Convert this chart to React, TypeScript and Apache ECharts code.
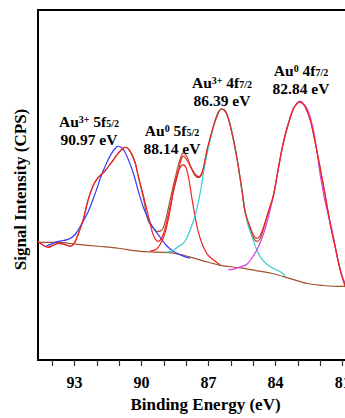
import React, { useEffect, useRef } from "react";
import * as echarts from "echarts";

// Axis ticks (binding energy, eV)
const xTickValues = [94, 93, 92, 91, 90, 89, 88, 87, 86, 85, 84, 83, 82, 81];
const xLabelValues = [93, 90, 87, 84, 81];

// [binding energy (eV), intensity (a.u.)]
const background = [
  [94.63, 120], [93.73, 120], [92.84, 118], [91.94, 116], [91.04, 114], [90.15, 111],
  [89.3, 110], [88.58, 109], [87.82, 105], [87.06, 100], [86.34, 96], [85.58, 94],
  [84.82, 91], [84.1, 88], [83.34, 83], [82.58, 78], [81.86, 76], [81.1, 75], [80.7, 75],
];

const envelope = [
  [94.63, 121], [94.4, 117], [94.18, 115], [93.95, 117], [93.73, 119], [93.46, 118],
  [93.19, 116], [93.01, 119], [92.84, 128], [92.61, 143], [92.39, 163], [92.16, 178],
  [91.94, 186], [91.63, 193], [91.36, 201], [91.04, 211], [90.82, 216], [90.73, 217],
  [90.51, 213], [90.28, 201], [90.15, 188], [89.92, 168], [89.7, 148], [89.48, 128],
  [89.25, 121], [89.03, 128], [88.8, 148], [88.58, 171], [88.36, 191], [88.22, 205],
  [88.13, 208], [88.0, 205], [87.82, 198], [87.64, 191], [87.46, 187], [87.28, 192],
  [87.06, 215], [86.83, 235], [86.61, 250], [86.43, 256], [86.3, 255], [86.16, 250],
  [85.94, 231], [85.72, 205], [85.49, 171], [85.36, 151], [85.13, 135], [84.95, 126],
  [84.82, 124], [84.69, 127], [84.55, 135], [84.33, 151], [84.1, 168], [83.88, 195],
  [83.66, 221], [83.43, 241], [83.21, 256], [83.03, 262], [82.94, 263], [82.81, 262],
  [82.67, 258], [82.45, 245], [82.22, 221], [82.0, 195], [81.78, 168], [81.55, 138],
  [81.33, 115], [81.1, 91], [80.88, 75], [80.7, 62],
];

const rawData = [
  [94.63, 121], [94.4, 117], [94.18, 115], [93.95, 117], [93.73, 119], [93.46, 118],
  [93.19, 116], [93.01, 119], [92.84, 128], [92.61, 143], [92.39, 163], [92.16, 178],
  [91.94, 186], [91.63, 193], [91.36, 201], [91.04, 211], [90.82, 216], [90.73, 217],
  [90.51, 213], [90.28, 201], [90.15, 188], [89.92, 166], [89.7, 142], [89.48, 135],
  [89.3, 131], [89.07, 133], [88.94, 141], [88.72, 163], [88.49, 186], [88.27, 205],
  [88.13, 211], [87.96, 207], [87.78, 196], [87.6, 188], [87.46, 186], [87.28, 191],
  [87.06, 214], [86.83, 234], [86.61, 249], [86.43, 256], [86.3, 255], [86.16, 249],
  [85.94, 230], [85.72, 204], [85.49, 170], [85.36, 150], [85.13, 133], [84.95, 123],
  [84.82, 121], [84.69, 124], [84.55, 133], [84.33, 150], [84.1, 167], [83.88, 195],
  [83.66, 221], [83.43, 241], [83.21, 256], [83.03, 262], [82.94, 263], [82.81, 262],
  [82.67, 258], [82.45, 245], [82.22, 221], [82.0, 195], [81.78, 168], [81.55, 138],
  [81.33, 115], [81.1, 91], [80.88, 75], [80.7, 62],
];

const au3Peak5f = [
  [94.27, 116], [93.73, 121], [93.28, 123], [92.97, 128], [92.7, 138], [92.39, 151],
  [92.07, 170], [91.8, 188], [91.58, 200], [91.36, 210], [91.13, 217], [91.04, 218],
  [90.82, 215], [90.6, 205], [90.37, 191], [90.15, 173], [89.92, 156], [89.7, 144],
  [89.48, 135], [89.16, 125], [88.85, 116], [88.58, 111], [88.13, 106], [87.82, 104],
];

const au0Peak5f = [
  [89.61, 111], [89.34, 113], [89.16, 118], [88.94, 130], [88.72, 153], [88.54, 176],
  [88.36, 192], [88.22, 198], [88.13, 199], [88.0, 196], [87.87, 183], [87.73, 163],
  [87.6, 146], [87.46, 131], [87.28, 118], [87.06, 108], [86.83, 103], [86.48, 97],
];

const au3Peak4f = [
  [88.94, 110], [88.63, 111], [88.4, 115], [88.13, 119], [87.96, 125], [87.69, 141],
  [87.51, 156], [87.37, 171], [87.15, 201], [86.92, 225], [86.7, 245], [86.57, 253],
  [86.43, 256], [86.3, 255], [86.16, 250], [85.94, 231], [85.72, 205], [85.49, 171],
  [85.27, 141], [85.04, 125], [84.82, 111], [84.55, 101], [84.24, 95], [83.79, 90],
  [83.57, 86],
];

const au0Peak4f = [
  [86.12, 92], [85.81, 93], [85.58, 95], [85.27, 98], [85.0, 106], [84.78, 115],
  [84.55, 128], [84.33, 145], [84.1, 168], [83.88, 195], [83.66, 221], [83.43, 241],
  [83.21, 256], [83.03, 262], [82.9, 264], [82.77, 262], [82.58, 256], [82.36, 240],
  [82.18, 218], [82.0, 188], [81.78, 161], [81.46, 131], [81.24, 105], [81.01, 85],
  [80.84, 76],
];

const peakLabels = [
  { ion: "Au", charge: "3+", orbital: "5f", sub: "5/2", energy: "90.97 eV" },
  { ion: "Au", charge: "0", orbital: "5f", sub: "5/2", energy: "88.14 eV" },
  { ion: "Au", charge: "3+", orbital: "4f", sub: "7/2", energy: "86.39 eV" },
  { ion: "Au", charge: "0", orbital: "4f", sub: "7/2", energy: "82.84 eV" },
];

const labelPos = [
  { x: 89, y1: 121.5, y2: 139.5 },
  { x: 172, y1: 130, y2: 148 },
  { x: 222, y1: 82.5, y2: 100.5 },
  { x: 301, y1: 70.5, y2: 88.5 },
];

const FONT = "'Liberation Serif', 'Times New Roman', serif";
const LABEL_SIZE = 15.5;

export default function App() {
  const ref = useRef<HTMLDivElement>(null);

  useEffect(() => {
    if (!ref.current) return;
    const chart = echarts.init(ref.current, undefined, { renderer: "svg" });

    const mkLine = (name: string, data: number[][], color: string, width = 1.2) => ({
      name,
      type: "line",
      data,
      symbol: "none",
      showSymbol: false,
      smooth: 0.35,
      silent: true,
      lineStyle: { color, width },
      itemStyle: { color },
    });

    const rich = {
      b: { fontFamily: FONT, fontWeight: "bold", fontSize: LABEL_SIZE, lineHeight: 14, fill: "#000", color: "#000" },
      sup: { fontFamily: FONT, fontWeight: "bold", fontSize: 10, lineHeight: 8, verticalAlign: "top", fill: "#000", color: "#000" },
      sub: { fontFamily: FONT, fontWeight: "bold", fontSize: 10, lineHeight: 8, verticalAlign: "bottom", fill: "#000", color: "#000" },
    };

    const graphics: any[] = [];
    peakLabels.forEach((p, i) => {
      const pos = labelPos[i];
      graphics.push({
        type: "text",
        x: pos.x,
        y: pos.y1,
        silent: true,
        style: {
          text: `{b|${p.ion}}{sup|${p.charge}}{b| ${p.orbital}}{sub|${p.sub}}`,
          rich,
          align: "center",
          verticalAlign: "middle",
          fill: "#000",
        },
      });
      graphics.push({
        type: "text",
        x: pos.x,
        y: pos.y2,
        silent: true,
        style: {
          text: p.energy,
          font: `bold ${LABEL_SIZE}px ${FONT}`,
          align: "center",
          verticalAlign: "middle",
          fill: "#000",
        },
      });
    });

    chart.setOption({
      animation: false,
      backgroundColor: "#fff",
      grid: {
        left: 38,
        top: 10,
        right: 0,
        bottom: 51,
        show: true,
        borderColor: "#000",
        borderWidth: 2,
        backgroundColor: "transparent",
      },
      xAxis: {
        type: "value",
        min: 80,
        max: 94.63,
        inverse: true,
        name: "Binding Energy (eV)",
        nameLocation: "middle",
        nameGap: 36,
        nameTextStyle: {
          color: "#000",
          fontFamily: FONT,
          fontWeight: "bold",
          fontSize: 17,
          padding: [0, 0, 0, 8],
        },
        axisLine: { show: true, onZero: false, lineStyle: { color: "#000", width: 2 } },
        axisTick: {
          show: true,
          customValues: xTickValues,
          length: 6,
          lineStyle: { color: "#333", width: 1.2 },
        },
        axisLabel: {
          customValues: xLabelValues,
          color: "#000",
          fontFamily: FONT,
          fontWeight: "bold",
          fontSize: 16,
          margin: 14,
        },
        splitLine: { show: false },
      },
      yAxis: {
        type: "value",
        min: 0,
        max: 357,
        name: "Signal Intensity (CPS)",
        nameLocation: "middle",
        nameGap: 9,
        nameRotate: 90,
        nameTextStyle: {
          color: "#000",
          fontFamily: FONT,
          fontWeight: "bold",
          fontSize: 17,
          padding: [0, 9, 0, 0],
        },
        axisLine: { show: true, lineStyle: { color: "#000", width: 2 } },
        axisTick: { show: false },
        axisLabel: { show: false },
        splitLine: { show: false },
      },
      series: [
        mkLine("Background", background, "#a0522d"),
        mkLine("Raw data", rawData, "#a0522d"),
        mkLine("Au3+ 5f5/2", au3Peak5f, "#3a3aff"),
        mkLine("Au0 5f5/2", au0Peak5f, "#ee2222"),
        mkLine("Au3+ 4f7/2", au3Peak4f, "#33cccc"),
        mkLine("Au0 4f7/2", au0Peak4f, "#dd3ddd"),
        mkLine("Fit envelope", envelope, "#ee2222"),
      ],
      graphic: graphics,
    });

    return () => chart.dispose();
  }, []);

  return (
    <div
      style={{
        position: "fixed",
        left: 0,
        top: 0,
        width: 345,
        height: 418,
        overflow: "hidden",
        background: "#fff",
      }}
    >
      <div ref={ref} style={{ width: 365, height: 418 }} />
    </div>
  );
}
